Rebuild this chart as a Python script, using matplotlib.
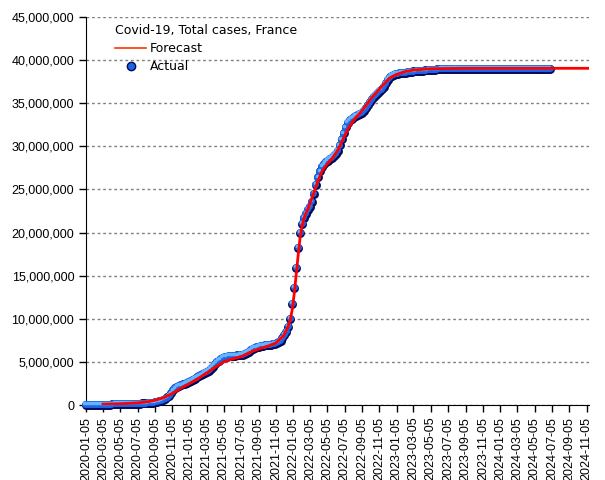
import matplotlib
matplotlib.use("Agg")
import matplotlib.pyplot as plt
import matplotlib.dates as mdates
import matplotlib.transforms as mtransforms
from matplotlib.lines import Line2D
import numpy as np
import pandas as pd

# Actual weekly totals (millions), one value per week starting 2020-01-05
actual_start = "2020-01-05"
actual_m = [
    0, 0, 0, 0, 0, 0, 0, 0, 0, 0.001,
    0.005, 0.016, 0.04, 0.07, 0.095, 0.11, 0.125, 0.13, 0.14, 0.145,
    0.15, 0.152, 0.155, 0.158, 0.161, 0.165, 0.17, 0.173, 0.178, 0.185,
    0.192, 0.203, 0.22, 0.245, 0.28, 0.32, 0.37, 0.43, 0.5, 0.58,
    0.7, 0.87, 1.1, 1.37, 1.7, 1.95, 2.1, 2.2, 2.3, 2.38,
    2.48, 2.56, 2.66, 2.8, 2.93, 3.06, 3.2, 3.33, 3.45, 3.57,
    3.7, 3.85, 4.0, 4.2, 4.45, 4.7, 4.95, 5.15, 5.3, 5.45,
    5.55, 5.62, 5.67, 5.7, 5.72, 5.74, 5.75, 5.77, 5.78, 5.82,
    5.9, 6.05, 6.2, 6.35, 6.5, 6.6, 6.7, 6.78, 6.84, 6.88,
    6.91, 6.94, 6.97, 7.0, 7.04, 7.09, 7.16, 7.28, 7.48, 7.75,
    8.1, 8.5, 9.1, 10.0, 11.7, 13.6, 15.9, 18.2, 20.0, 21.0,
    21.7, 22.2, 22.6, 23.0, 23.6, 24.5, 25.5, 26.4, 27.1, 27.6,
    27.9, 28.15, 28.35, 28.55, 28.7, 28.9, 29.1, 29.5, 30.1, 30.8,
    31.5, 32.2, 32.7, 33.0, 33.2, 33.35, 33.5, 33.6, 33.75, 33.9,
    34.1, 34.4, 34.75, 35.1, 35.45, 35.75, 36.0, 36.2, 36.4, 36.6,
    36.9, 37.3, 37.7, 38.0, 38.2, 38.3, 38.38, 38.43, 38.47, 38.5,
    38.53, 38.56, 38.59, 38.62, 38.65, 38.68, 38.7, 38.72, 38.74, 38.76,
    38.78, 38.8, 38.82, 38.84, 38.86, 38.88, 38.9, 38.92, 38.94, 38.95,
    38.96, 38.97, 38.98, 38.99, 39.0, 39.0, 39.0, 39.0, 39.0, 39.0,
    39.0, 39.0, 39.0, 39.0, 39.0, 39.0, 39.0, 39.0, 39.0, 39.0,
    39.0, 39.0, 39.0, 39.0, 39.0, 39.0, 39.0, 39.0, 39.0, 39.0,
    39.0, 39.0, 39.0, 39.0, 39.0, 39.0, 39.0, 39.0, 39.0, 39.0,
    39.0, 39.0, 39.0, 39.0, 39.0, 39.0, 39.0, 39.0, 39.0, 39.0,
    39.0, 39.0, 39.0, 39.0, 39.0,
]

# Forecast curve (millions) at irregular dates
forecast_dates = [
    "2020-03-05", "2020-05-05", "2020-07-05", "2020-08-05", "2020-09-05",
    "2020-10-05", "2020-11-05", "2020-12-05", "2021-01-05", "2021-02-05",
    "2021-03-05", "2021-04-05", "2021-05-05", "2021-06-05", "2021-07-05",
    "2021-08-05", "2021-09-05", "2021-10-05", "2021-11-05", "2021-12-01",
    "2021-12-15", "2021-12-25", "2022-01-01", "2022-01-08", "2022-01-15",
    "2022-01-22", "2022-01-29", "2022-02-05", "2022-02-15", "2022-03-01",
    "2022-03-15", "2022-04-01", "2022-04-15", "2022-05-01", "2022-05-20",
    "2022-06-10", "2022-07-01", "2022-07-20", "2022-08-10", "2022-09-01",
    "2022-09-20", "2022-10-10", "2022-11-01", "2022-11-20", "2022-12-10",
    "2023-01-01", "2023-02-01", "2023-03-05", "2023-05-05", "2023-09-05",
    "2024-11-12",
]
forecast_m = [
    0.1, 0.15, 0.25, 0.35, 0.55,
    0.85, 1.35, 1.95, 2.5, 3.1,
    3.7, 4.4, 5.0, 5.35, 5.6,
    6.1, 6.5, 6.8, 7.2, 8.0,
    8.9, 9.8, 11.0, 12.8, 15.0,
    17.3, 19.4, 20.8, 22.0, 23.0,
    24.3, 25.9, 27.0, 27.8, 28.5,
    29.5, 30.9, 32.2, 33.2, 34.0,
    34.8, 35.7, 36.5, 37.2, 37.9,
    38.3, 38.65, 38.85, 39.0, 39.05,
    39.05,
]

title = "Covid-19, Total cases, France"
tick_dates = pd.date_range("2020-01-01", "2024-11-01", freq="2MS") + pd.Timedelta(days=4)

act_x = pd.date_range(actual_start, periods=len(actual_m), freq="7D")
act_y = np.array(actual_m) * 1e6
fc_x = pd.to_datetime(forecast_dates)
fc_y = np.array(forecast_m) * 1e6

fig = plt.figure(figsize=(6.05, 4.8), dpi=100)
ax = fig.add_axes([86 / 605, 75 / 480, 503 / 605, 388 / 480])

# sphere-like markers: dark base, blue body, light highlight
ax.plot(act_x, act_y, "o", ms=6.4, color="#000a5a", mew=0, clip_on=False, zorder=3)
off1 = mtransforms.offset_copy(ax.transData, fig=fig, x=-0.6, y=0.6, units="points")
ax.plot(act_x, act_y, "o", ms=5.0, color="#1e64e6", mew=0, clip_on=False, zorder=4, transform=off1)
off2 = mtransforms.offset_copy(ax.transData, fig=fig, x=-1.2, y=1.2, units="points")
ax.plot(act_x, act_y, "o", ms=2.6, color="#64b4ff", mew=0, clip_on=False, zorder=5, transform=off2)

ax.plot(fc_x, fc_y, color="#ff0000", lw=2.0, zorder=6)

ax.set_xlim(pd.Timestamp("2020-01-05"), pd.Timestamp("2024-11-13"))
ax.set_ylim(0, 45e6)
ax.set_yticks(np.arange(0, 45e6 + 1, 5e6))
ax.yaxis.set_major_formatter(matplotlib.ticker.FuncFormatter(lambda v, p: f"{int(v):,}"))
ax.set_xticks(tick_dates)
ax.xaxis.set_major_formatter(mdates.DateFormatter("%Y-%m-%d"))
plt.setp(ax.get_xticklabels(), rotation=90)

for lab in ax.get_xticklabels() + ax.get_yticklabels():
    lab.set_fontfamily("Liberation Sans")
    lab.set_fontsize(9)

ax.tick_params(direction="out", length=5, width=1, colors="black")
ax.spines["top"].set_visible(False)
ax.spines["right"].set_visible(False)
ax.grid(axis="y", color="#808080", linestyle=(0, (2, 2)), linewidth=1)
ax.set_axisbelow(True)

handles = [
    Line2D([], [], color="#ff3300", lw=1.2),
    Line2D([], [], marker="o", ls="", ms=6, color="#1e64e6", mec="#000a5a"),
]
leg = ax.legend(handles, ["Forecast", "Actual"], title=title, loc="upper left",
                bbox_to_anchor=(0.048, 0.995), frameon=False, fontsize=9,
                title_fontsize=9, handlelength=2.5, handletextpad=0.3,
                labelspacing=0.42, alignment="left", borderaxespad=0)

fig.savefig("out.png", dpi=100)
